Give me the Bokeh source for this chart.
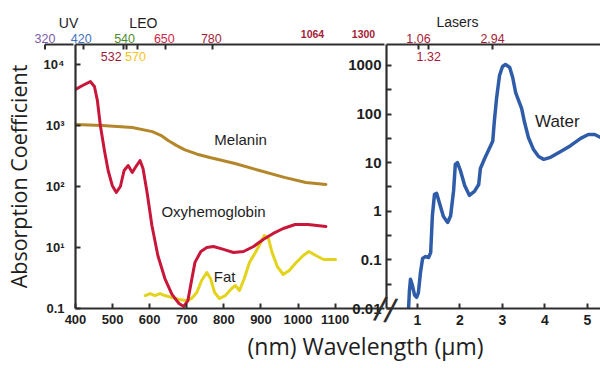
import math
from bokeh.plotting import figure
from bokeh.models import (Range1d, LinearAxis, FixedTicker, LabelSet, Label,
                          ColumnDataSource, Title)
from bokeh.layouts import row
from bokeh.embed import file_html
from bokeh.resources import INLINE
from bokeh.core.properties import value

# ---------------- data ----------------
OXY_NM = [400, 419, 440, 451, 459, 467, 478, 488, 499, 510, 521, 531, 542, 553, 563,
          574, 582, 593, 606, 622, 641, 660, 679, 692, 703, 711, 722, 738, 754, 772,
          799, 826, 853, 880, 906, 933, 960, 992, 1027, 1075]
OXY_VAL = [3890, 4530, 5260, 4360, 2570, 1000, 389, 183, 104, 80, 100, 183, 221, 170, 213,
           267, 197, 80, 23, 7.4, 3.1, 1.7, 1.21, 1.08, 1.35, 2.5, 5.7, 8.6, 10.0, 10.4,
           9.3, 8.3, 8.6, 10.4, 13.5, 17.0, 20.5, 23.8, 23.8, 22.1]

MEL_NM = [400, 472, 553, 607, 630, 651, 673, 695, 728, 762, 830, 896, 963, 1021, 1075]
MEL_VAL = [1040, 1000, 927, 794, 692, 562, 468, 398, 339, 299, 238, 183, 141, 116, 108]

FAT_NM = [588, 601, 614, 628, 641, 660, 679, 697, 713, 727, 740, 754, 764, 775, 788,
          804, 821, 831, 842, 855, 869, 885, 898, 909, 920, 930, 944, 960, 976, 995,
          1014, 1029, 1048, 1069, 1101]
FAT_VAL = [1.63, 1.76, 1.63, 1.76, 1.63, 1.51, 1.41, 1.35, 1.46, 1.83, 2.88, 3.89, 3.10, 1.83, 1.46,
           1.63, 2.13, 2.38, 1.97, 3.10, 5.68, 8.28, 11.6, 15.7, 14.1, 8.28, 4.88, 3.61, 4.20, 5.68,
           7.39, 8.60, 7.39, 6.36, 6.36]

WATER_UM = [0.79, 0.81, 0.835, 0.88, 0.93, 0.98, 1.02, 1.07, 1.12, 1.19, 1.26, 1.31, 1.35, 1.40,
            1.45, 1.52, 1.61, 1.71, 1.78, 1.85, 1.89, 1.94, 2.01, 2.11, 2.22, 2.34, 2.44, 2.48,
            2.58, 2.69, 2.77, 2.81, 2.86, 2.93, 3.00, 3.07, 3.17, 3.24, 3.31, 3.38, 3.45, 3.52,
            3.61, 3.73, 3.85, 3.97, 4.13, 4.37, 4.60, 4.84, 5.02, 5.17, 5.31]
WATER_VAL = [0.010, 0.023, 0.040, 0.030, 0.019, 0.017, 0.021, 0.055, 0.107, 0.117, 0.112, 0.141,
             0.81, 2.24, 2.34, 1.45, 0.78, 0.59, 0.81, 2.69, 9.2, 10.0, 6.9, 3.39, 2.13, 2.57,
             3.55, 7.6, 12.2, 19.5, 27.5, 74, 209, 622, 955, 1050, 910, 566, 277, 190, 131, 67,
             33, 18.6, 13.4, 11.7, 12.9, 17.0, 22.4, 31.6, 38, 38, 33]

NM_TICKS = [400, 500, 600, 700, 800, 900, 1000, 1100]
UM_TICKS = [1, 2, 3, 4, 5]
LEFT_Y_TICKS = [1, 10, 100, 1000, 10000]
LEFT_Y_LABELS = ["0.1", "10¹", "10²", "10³", "10⁴"]
RIGHT_Y_TICKS = [0.01, 0.1, 1, 10, 100, 1000]
RIGHT_Y_LABELS = ["0.01", "0.1", "1", "10", "100", "1000"]
RIGHT_Y_MINOR = [0.0316, 0.316, 3.16, 31.6, 316]

TOP_NM_TICKS = [320, 420, 532, 540, 570, 650, 780]
TOP_NM_UPPER = [320, 420, 540, 650, 780]
TOP_NM_UPPER_COLORS = ["#7e5ba8", "#3f72c2", "#4e8e2d", "#cf2746", "#9e1f3b"]
TOP_NM_LOWER = [532, 570]
TOP_NM_LOWER_COLORS = ["#a01d3a", "#f3c418"]
LASER_NM = [1064, 1300]
TOP_UM_TICKS = [1.06, 1.32, 2.94]
TOP_UM_UPPER = [1.06, 2.94]
TOP_UM_LOWER = [1.32]
LASER_COLOR = "#a61c37"

AXIS_COLOR = "#2e2e2e"
TEXT_COLOR = "#1e1e1e"
TICK_FONT = "Liberation Sans"
TITLE_FONT = "Open Sans"

# ---------------- geometry / scales ----------------
CANVAS_W, CANVAS_H = 600, 368
LEFT_FRAME = (73, 384)      # pixel span of the nm panel
RIGHT_FRAME = (386, 600)    # pixel span of the µm panel
FRAME_Y = (44, 308)         # top, bottom
RIGHT_CANVAS_X = 336
TICK_LEN = 5

LEFT_X_RANGE = (400, 1233)
LEFT_Y_RANGE = (1, 21300)
TOP_NM_RANGE = (398.8, 1258.8)
LASER_NM_RANGE = (-42, 1397)
RIGHT_X_RANGE = (0.2706, 5.306)
RIGHT_Y_RANGE = (0.01, 2700)
TOP_UM_RANGE = (0.2478, 5.679)


def extend_x(rng, f0, f1):
    k = (rng[1] - rng[0]) / (f1 - f0)
    return (rng[0] - f0 * k, rng[0] + (CANVAS_W - f0) * k)


def extend_log_y(rng, top, bottom):
    a, b = math.log10(rng[0]), math.log10(rng[1])
    k = (b - a) / (bottom - top)
    return (10 ** (a - (CANVAS_H - bottom) * k), 10 ** (b + top * k))


def style_axis(ax, size, bold=True):
    ax.axis_line_width = 2.2
    ax.axis_line_color = AXIS_COLOR
    ax.major_tick_line_width = 2
    ax.major_tick_line_color = AXIS_COLOR
    ax.major_tick_in = TICK_LEN
    ax.major_tick_out = 0
    ax.minor_tick_line_color = None
    ax.major_label_text_font = TICK_FONT
    ax.major_label_text_font_size = size
    ax.major_label_text_font_style = "bold" if bold else "normal"
    ax.major_label_text_color = TEXT_COLOR


def no_frame_align(fig):
    try:
        fig.frame_align = False
    except Exception:
        pass


# ---------------- left panel (nm) ----------------
p = figure(width=CANVAS_W, height=CANVAS_H, x_range=Range1d(*LEFT_X_RANGE),
           y_range=Range1d(*LEFT_Y_RANGE), y_axis_type="log", output_backend="svg",
           toolbar_location=None, min_border_left=LEFT_FRAME[0],
           min_border_right=CANVAS_W - LEFT_FRAME[1], min_border_top=FRAME_Y[0],
           min_border_bottom=CANVAS_H - FRAME_Y[1])
no_frame_align(p)
p.extra_x_ranges = {"top_nm": Range1d(*TOP_NM_RANGE)}
p.outline_line_color = None
p.grid.visible = False
p.background_fill_color = "white"
p.border_fill_color = "white"

p.line(MEL_NM, MEL_VAL, line_color="#b3862a", line_width=3, line_join="round", line_cap="round")
p.line(FAT_NM, FAT_VAL, line_color="#e3d31c", line_width=3, line_join="round", line_cap="round")
p.line(OXY_NM, OXY_VAL, line_color="#c8173a", line_width=3, line_join="round", line_cap="round")

xa = p.xaxis[0]
style_axis(xa, "13px")
xa.ticker = FixedTicker(ticks=NM_TICKS)
xa.major_label_standoff = 6

ya = p.yaxis[0]
style_axis(ya, "13px")
ya.ticker = FixedTicker(ticks=LEFT_Y_TICKS, minor_ticks=[])
ya.major_label_overrides = dict(zip(LEFT_Y_TICKS, LEFT_Y_LABELS))
ya.major_label_standoff = 11
ya.axis_label = "Absorption Coefficient"
ya.axis_label_text_font = TITLE_FONT
ya.axis_label_text_font_size = "21.5px"
ya.axis_label_text_font_style = "normal"
ya.axis_label_text_color = TEXT_COLOR
ya.axis_label_standoff = 8

# top wavelength axis: line and inward ticks only (coloured labels are drawn by the overlay)
top_ax = LinearAxis(x_range_name="top_nm", ticker=FixedTicker(ticks=TOP_NM_TICKS, minor_ticks=[]))
style_axis(top_ax, "9px")
top_ax.major_label_text_color = None
top_ax.major_label_standoff = 0
p.add_layout(top_ax, "above")

p.add_layout(Title(text="(nm) Wavelength (µm)", align="left", offset=172,
                   text_font=TITLE_FONT, text_font_size="23px", text_font_style="normal",
                   text_color=TEXT_COLOR, standoff=2), "below")

txt_common = dict(text_font=value(TICK_FONT), text_color=TEXT_COLOR,
                  text_align="center", text_baseline="middle")
p.text(x=[772], y=[38.9], text=["Oxyhemoglobin"], text_font_size="15px", **txt_common)
p.text(x=[845], y=[590], text=["Melanin"], text_font_size="15px", **txt_common)
p.text(x=[802], y=[3.35], text=["Fat"], text_font_size="15px", **txt_common)

# ---------------- right panel (µm) ----------------
q = figure(width=CANVAS_W - RIGHT_CANVAS_X, height=CANVAS_H, x_range=Range1d(*RIGHT_X_RANGE),
           y_range=Range1d(*RIGHT_Y_RANGE), y_axis_type="log", output_backend="svg",
           toolbar_location=None, min_border_left=RIGHT_FRAME[0] - RIGHT_CANVAS_X,
           min_border_right=CANVAS_W - RIGHT_FRAME[1], min_border_top=FRAME_Y[0],
           min_border_bottom=CANVAS_H - FRAME_Y[1])
no_frame_align(q)
q.margin = (0, 0, 0, RIGHT_CANVAS_X - CANVAS_W)
q.extra_x_ranges = {"top_um": Range1d(*TOP_UM_RANGE)}
q.outline_line_color = None
q.grid.visible = False
q.background_fill_color = None
q.border_fill_color = None

q.line(WATER_UM, WATER_VAL, line_color="#2f5ca8", line_width=3.5, line_join="round", line_cap="round")

qx = q.xaxis[0]
style_axis(qx, "14px")
qx.ticker = FixedTicker(ticks=UM_TICKS)
qx.major_label_standoff = 6

qy = q.yaxis[0]
style_axis(qy, "15px")
qy.ticker = FixedTicker(ticks=RIGHT_Y_TICKS, minor_ticks=RIGHT_Y_MINOR)
qy.major_label_overrides = dict(zip(RIGHT_Y_TICKS, RIGHT_Y_LABELS))
qy.minor_tick_line_color = AXIS_COLOR
qy.minor_tick_line_width = 2
qy.minor_tick_in = TICK_LEN
qy.minor_tick_out = 0
qy.major_label_standoff = 5

qtop = LinearAxis(x_range_name="top_um", ticker=FixedTicker(ticks=TOP_UM_TICKS, minor_ticks=[]))
style_axis(qtop, "9px")
qtop.major_label_text_color = None
qtop.major_label_standoff = 0
q.add_layout(qtop, "above")

q.text(x=[4.29], y=[70.5], text=["Water"], text_font_size="17px", **txt_common)

# ---------------- overlay for texts outside the plot frames ----------------
r = figure(width=CANVAS_W, height=CANVAS_H, x_range=Range1d(*extend_x(TOP_NM_RANGE, *LEFT_FRAME)),
           y_range=Range1d(*extend_log_y(LEFT_Y_RANGE, *FRAME_Y)), y_axis_type="log",
           x_axis_location=None, y_axis_location=None, output_backend="svg",
           toolbar_location=None, min_border_left=0, min_border_right=0,
           min_border_top=0, min_border_bottom=0)
no_frame_align(r)
r.margin = (0, 0, 0, -CANVAS_W)
r.extra_x_ranges = {
    "laser_nm": Range1d(*extend_x(LASER_NM_RANGE, *LEFT_FRAME)),
    "nm": Range1d(*extend_x(LEFT_X_RANGE, *LEFT_FRAME)),
    "top_um": Range1d(*extend_x(TOP_UM_RANGE, *RIGHT_FRAME)),
}
r.extra_y_ranges = {"right": Range1d(*extend_log_y(RIGHT_Y_RANGE, *FRAME_Y))}
r.outline_line_color = None
r.grid.visible = False
r.background_fill_color = None
r.border_fill_color = None

# the top wavelength axis continues left of the absorption axis, down to 320 nm
px_per_decade = (FRAME_Y[1] - FRAME_Y[0]) / math.log10(LEFT_Y_RANGE[1] / LEFT_Y_RANGE[0])
y_top = LEFT_Y_RANGE[1]
y_tick = y_top / 10 ** (TICK_LEN / px_per_decade)
r.segment(x0=[TOP_NM_TICKS[0]], y0=[y_top], x1=[TOP_NM_RANGE[0]], y1=[y_top],
          line_color=AXIS_COLOR, line_width=2.2)
r.segment(x0=[TOP_NM_TICKS[0]], y0=[y_top], x1=[TOP_NM_TICKS[0]], y1=[y_tick],
          line_color=AXIS_COLOR, line_width=2)

lab_common = dict(text_baseline="middle", text_font=value(TICK_FONT))
r.add_layout(LabelSet(x="x", y=26700, text="text", text_color="color", text_align="center",
                      source=ColumnDataSource(dict(x=TOP_NM_UPPER, text=[str(v) for v in TOP_NM_UPPER],
                                                   color=TOP_NM_UPPER_COLORS)),
                      text_font_size="12.5px", **lab_common))
# the two crowded lower labels: the first is set to the left of its tick
for i, (v, c) in enumerate(zip(TOP_NM_LOWER, TOP_NM_LOWER_COLORS)):
    r.add_layout(Label(x=v, y=13500, text=str(v), text_color=c,
                       text_align="right" if i == 0 else "center", text_baseline="middle",
                       text_font=TICK_FONT, text_font_size="12.5px"))
r.add_layout(LabelSet(x="x", y=31600, text="text", x_range_name="laser_nm", text_align="center",
                      source=ColumnDataSource(dict(x=LASER_NM, text=[str(v) for v in LASER_NM])),
                      text_color=LASER_COLOR, text_font_size="10.5px", text_font_style="bold",
                      **lab_common))
r.add_layout(LabelSet(x="x", y=3593, text="text", x_range_name="top_um", y_range_name="right",
                      text_align="center",
                      source=ColumnDataSource(dict(x=TOP_UM_UPPER, text=[f"{v:.2f}" for v in TOP_UM_UPPER])),
                      text_color=LASER_COLOR, text_font_size="12.5px", **lab_common))
r.add_layout(LabelSet(x="x", y=1531, text="text", x_range_name="top_um", y_range_name="right",
                      text_align="center",
                      source=ColumnDataSource(dict(x=TOP_UM_LOWER, text=[f"{v:.2f}" for v in TOP_UM_LOWER])),
                      text_color=LASER_COLOR, text_font_size="12.5px", **lab_common))
for txt, xv in (("UV", 385), ("LEO", 592)):
    r.add_layout(Label(x=xv, y=48800, text=txt, text_align="center", text_baseline="middle",
                       text_font=TICK_FONT, text_font_size="14px", text_color=TEXT_COLOR))
r.add_layout(Label(x=2.05, y=7674, x_range_name="top_um", y_range_name="right", text="Lasers",
                   text_align="center", text_baseline="middle", text_font=TICK_FONT,
                   text_font_size="14px", text_color=TEXT_COLOR))
# axis break mark at the end of the nm axis
r.add_layout(Label(x=LEFT_X_RANGE[1] + 3, y=LEFT_Y_RANGE[0], x_range_name="nm", text="//",
                   text_align="center", text_baseline="middle", text_font="DejaVu Sans",
                   text_font_size="31px", angle=-0.18, text_color=AXIS_COLOR))

layout = row(p, q, r)
open("out.html", "w").write(file_html(layout, INLINE))
